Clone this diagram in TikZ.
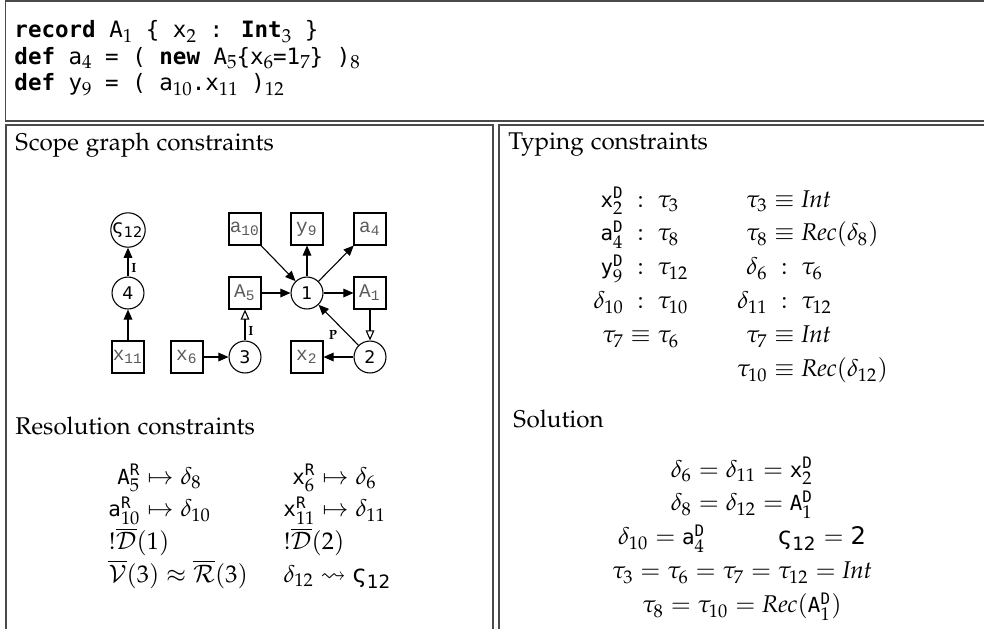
\documentclass[tikz,border=0pt]{standalone}
\usepackage[T1]{fontenc}
\usepackage{amsmath}
\usepackage{amssymb}
\usepackage{mathpazo}
\usepackage[no-math]{fontspec}
\usetikzlibrary{arrows.meta, positioning}
\newfontfamily\cdfont{DejaVu Sans Mono}
\newfontfamily\mnfont{DejaVu Sans Mono}[Scale=0.86]
\newfontfamily\sgfont{DejaVu Sans}
\newfontfamily\grfont{Liberation Mono}
\newcommand\pal{\fontencoding{T1}\fontfamily{pplx}\selectfont}
\newcommand\sbs[1]{\raisebox{-0.35ex}{\pal\fontsize{7.8}{9}\selectfont #1}}
\newcommand\nm[1]{\text{\mnfont #1}}
\newcommand\Dc{\nm{D}}
\newcommand\Rc{\nm{R}}
\newcommand\vsig{\text{\sgfont ς}_{\text{\sgfont 12}}}
\definecolor{framegray}{HTML}{4A4A4A}
\definecolor{labelgray}{HTML}{5A5A5A}

\begin{document}
\begin{tikzpicture}[
  x=0.4132pt, y=-0.4132pt,
  frame/.style={draw=framegray, line width=0.55pt},
  txt/.style={inner sep=0pt, font=\pal\fontsize{10}{12}\selectfont},
  code/.style={anchor=base west, inner sep=0pt, font=\cdfont\fontsize{9.3}{11}\selectfont},
  scp/.style={circle, draw, line width=0.45pt, minimum size=13.2pt, inner sep=0pt, font=\sgfont\fontsize{7.2}{8}\selectfont},
  dcl/.style={rectangle, draw, line width=0.45pt, minimum size=13.2pt, inner sep=0pt, text=labelgray, font=\grfont\fontsize{8}{9}\selectfont},
  ed/.style={-{Triangle[length=4.2pt, width=3.6pt]}, line width=0.45pt},
  imp/.style={-{Triangle[open, length=4.2pt, width=3.6pt]}, line width=0.45pt},
  lbl/.style={inner sep=1.2pt, font=\pal\bfseries\fontsize{5.5}{6}\selectfont}
]
\useasboundingbox (0,0) rectangle (984,628);
\clip (0,0) rectangle (984,628);

% frames
\draw[frame] (5.5,1) rectangle (1010,121);
\draw[frame] (6,125) rectangle (493,700);
\draw[frame] (499,125) rectangle (1010,700);

% program
\node[code] (c1) at (14,37.7) {\textbf{record} A\sbs{1} \{ x\sbs{2} : \textbf{Int}\sbs{3} \}};
\node[code] (c2) at (14,64.2) {\textbf{def} a\sbs{4} = ( \textbf{new} A\sbs{5}\{x\sbs{6}=1\sbs{7}\} )\sbs{8}};
\node[code] (c3) at (14,90.7) {\textbf{def} y\sbs{9} = ( a\sbs{10}.x\sbs{11} )\sbs{12}};

% headings
\node[txt, anchor=base west] (hsg) at (15,150) {Scope graph constraints};
\node[txt, anchor=base west] (hres) at (15,434) {Resolution constraints};
\node[txt, anchor=base west] (htyp) at (508,149) {Typing constraints};
\node[txt, anchor=base west] (hsol) at (513,427) {Solution};

% scope graph
\node[scp, font=\sgfont\fontsize{8}{9}\selectfont] (s12) at (128,230) {ς\textsubscript{12}};
\node[scp] (n4) at (128,293) {4};
\node[dcl] (x11) at (128,357) {x\textsubscript{11}};
\node[dcl] (a10) at (245,229) {a\textsubscript{10}};
\node[dcl] (y9) at (307,229) {y\textsubscript{9}};
\node[dcl] (a4) at (370,229) {a\textsubscript{4}};
\node[dcl] (A5) at (245,293) {A\textsubscript{5}};
\node[scp] (n1) at (307,293) {1};
\node[dcl] (A1) at (370,293) {A\textsubscript{1}};
\node[dcl] (x6) at (187,357) {x\textsubscript{6}};
\node[scp] (n3) at (245,357) {3};
\node[dcl] (x2) at (307,357) {x\textsubscript{2}};
\node[scp] (n2) at (370,357) {2};

\draw[ed] (n4) -- node[lbl, right, pos=0.3] {I} (s12);
\draw[ed] (x11) -- (n4);
\draw[ed] (a10) -- (n1);
\draw[ed] (n1) -- (y9);
\draw[ed] (n1) -- (a4);
\draw[ed] (A5) -- (n1);
\draw[ed] (n1) -- (A1);
\draw[imp] (A1) -- (n2);
\draw[ed] (n2) -- node[lbl, below left, pos=0.45] {P} (n1);
\draw[ed] (n2) -- (x2);
\draw[ed] (x6) -- (n3);
\draw[imp] (n3) -- node[lbl, right, pos=0.3] {I} (A5);

% resolution constraints
\node[txt, anchor=base west] (resl) at (108,484) {\renewcommand\arraystretch{1.13}$\begin{array}[t]{@{}r@{}l@{}}
  \nm{A}^{\Rc}_5 & {}\mapsto \delta_8\\
  \nm{a}^{\Rc}_{10} & {}\mapsto \delta_{10}\\
  \multicolumn{2}{@{}l@{}}{!\overline{\mathcal{D}}(1)}\\
  \multicolumn{2}{@{}l@{}}{\overline{\mathcal{V}}(3) \approx \overline{\mathcal{R}}(3)}
\end{array}$};
\node[txt, anchor=base west] (resr) at (283,484) {\renewcommand\arraystretch{1.13}$\begin{array}[t]{@{}r@{}l@{}}
  \nm{x}^{\Rc}_6 & {}\mapsto \delta_6\\
  \nm{x}^{\Rc}_{11} & {}\mapsto \delta_{11}\\
  \multicolumn{2}{@{}l@{}}{!\overline{\mathcal{D}}(2)}\\
  \multicolumn{2}{@{}l@{}}{\delta_{12} \rightsquigarrow \vsig}
\end{array}$};

% typing constraints
\node[txt, anchor=base west] (typ) at (593,207) {\renewcommand\arraystretch{1.17}$\begin{array}[t]{@{}r@{\;}c@{\;}l@{\qquad}r@{\;}c@{\;}l@{}}
  \nm{x}^{\Dc}_2 & : & \tau_3 & \tau_3 & \equiv & \mathit{Int}\\
  \nm{a}^{\Dc}_4 & : & \tau_8 & \tau_8 & \equiv & \mathit{Rec}(\delta_8)\\
  \nm{y}^{\Dc}_9 & : & \tau_{12} & \delta_6 & : & \tau_6\\
  \delta_{10} & : & \tau_{10} & \delta_{11} & : & \tau_{12}\\
  \tau_7 & \equiv & \tau_6 & \tau_7 & \equiv & \mathit{Int}\\
  & & & \tau_{10} & \equiv & \mathit{Rec}(\delta_{12})
\end{array}$};

% solution
\node[txt, anchor=base] (sol) at (742,477) {\renewcommand\arraystretch{1.17}$\begin{array}[t]{@{}c@{}}
  \delta_6 = \delta_{11} = \nm{x}^{\Dc}_2\\
  \delta_8 = \delta_{12} = \nm{A}^{\Dc}_1\\
  \delta_{10} = \nm{a}^{\Dc}_4 \qquad\quad \vsig = \text{\sgfont 2}\\
  \tau_3 = \tau_6 = \tau_7 = \tau_{12} = \mathit{Int}\\
  \tau_8 = \tau_{10} = \mathit{Rec}(\nm{A}^{\Dc}_1)
\end{array}$};
\end{tikzpicture}
\end{document}
